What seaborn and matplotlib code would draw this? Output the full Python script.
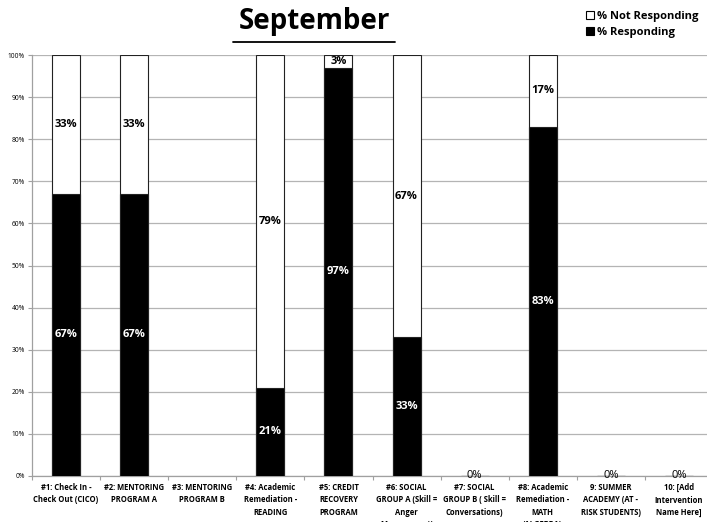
import numpy as np
import pandas as pd
import matplotlib
matplotlib.use("Agg")
import matplotlib.pyplot as plt
import seaborn as sns
from matplotlib.patches import Patch
from matplotlib.lines import Line2D

sns.set_style("white")
plt.rcParams['font.family'] = ['Open Sans', 'DejaVu Sans']
plt.rcParams['text.color'] = 'black'
plt.rcParams['xtick.color'] = 'black'
plt.rcParams['ytick.color'] = 'black'

# ---- data ----
categories = [
    "#1: Check In -\nCheck Out (CICO)",
    "#2: MENTORING\nPROGRAM A",
    "#3: MENTORING\nPROGRAM B",
    "#4: Academic\nRemediation -\nREADING",
    "#5: CREDIT\nRECOVERY\nPROGRAM",
    "#6: SOCIAL\nGROUP A (Skill =\nAnger\nManagement)",
    "#7: SOCIAL\nGROUP B ( Skill =\nConversations)",
    "#8: Academic\nRemediation -\nMATH\n(ALGEBRA)",
    "9: SUMMER\nACADEMY (AT -\nRISK STUDENTS)",
    "10: [Add\nIntervention\nName Here]",
]
responding = [0.67, 0.67, np.nan, 0.21, 0.97, 0.33, 0.0, 0.83, 0.0, 0.0]
not_responding = [0.33, 0.33, np.nan, 0.79, 0.03, 0.67, 0.0, 0.17, 0.0, 0.0]

df = pd.DataFrame({"category": categories,
                   "responding": responding,
                   "not_responding": not_responding})
df["total"] = df["responding"] + df["not_responding"]

fig = plt.figure(figsize=(7.07, 5.22), dpi=100)
ax = fig.add_axes([32 / 707, 46 / 522, 681 / 707, 421 / 522])

# stacked bars: white total first, black responding on top
sns.barplot(data=df, x="category", y="total", color="white", edgecolor="#222222",
            linewidth=0.8, width=0.41, ax=ax, zorder=2)
sns.barplot(data=df, x="category", y="responding", color="black", edgecolor="#222222",
            linewidth=0.8, width=0.41, ax=ax, zorder=3)

# value labels
for i, row in df.iterrows():
    r, n = row["responding"], row["not_responding"]
    if np.isnan(r):
        continue
    if r == 0 and n == 0:
        ax.text(i, 0.0, "0%", ha="center", va="center", fontsize=8, color="black", zorder=5)
        continue
    ax.text(i, r / 2, f"{r:.0%}", ha="center", va="center", fontsize=8,
            fontweight="bold", color="white", zorder=5)
    ax.text(i, r + n / 2, f"{n:.0%}", ha="center", va="center", fontsize=8,
            fontweight="bold", color="black", zorder=5)

ax.set_ylim(0, 1)
ax.set_xlim(-0.5, 9.5)
ax.set_yticks(np.arange(0, 1.01, 0.1))
ax.set_yticklabels([f"{v:.0%}" for v in np.arange(0, 1.01, 0.1)], fontsize=4.8)
ax.yaxis.grid(True, color="#b4b4b4", linewidth=0.9, zorder=0)
ax.set_axisbelow(True)
ax.tick_params(axis="y", length=3, width=0.8, color="#a0a0a0", pad=2, left=True)

ax.set_xticks(range(len(categories)))
ax.set_xticklabels(categories, fontsize=5.5, fontweight="bold", linespacing=1.5)
ax.tick_params(axis="x", length=0, pad=5)
ax.set_xticks(np.arange(-0.5, 10, 1), minor=True)
ax.tick_params(axis="x", which="minor", length=3, width=0.8, color="#a0a0a0", bottom=True)

ax.set_xlabel("")
ax.set_ylabel("")
for side in ["top", "right"]:
    ax.spines[side].set_visible(False)
for side in ["left", "bottom"]:
    ax.spines[side].set_color("#a0a0a0")
    ax.spines[side].set_linewidth(0.9)

# title with underline
fig.text(314 / 707, 1 - 21 / 522, "September", ha="center", va="center",
         fontsize=20, fontweight="bold")
fig.add_artist(Line2D([233 / 707, 395 / 707], [1 - 42 / 522, 1 - 42 / 522],
                      color="black", linewidth=1.3))

# legend
handles = [Patch(facecolor="white", edgecolor="black", linewidth=0.8, label="% Not Responding"),
           Patch(facecolor="black", edgecolor="black", linewidth=0.8, label="% Responding")]
leg = fig.legend(handles=handles, loc="upper left", bbox_to_anchor=(578 / 707, 1 - 3 / 522),
                 frameon=False, fontsize=8, handlelength=0.7, handleheight=0.7,
                 handletextpad=0.35, labelspacing=0.45, borderpad=0.2)
for t in leg.get_texts():
    t.set_fontweight("bold")

fig.savefig("out.png", dpi=100)
